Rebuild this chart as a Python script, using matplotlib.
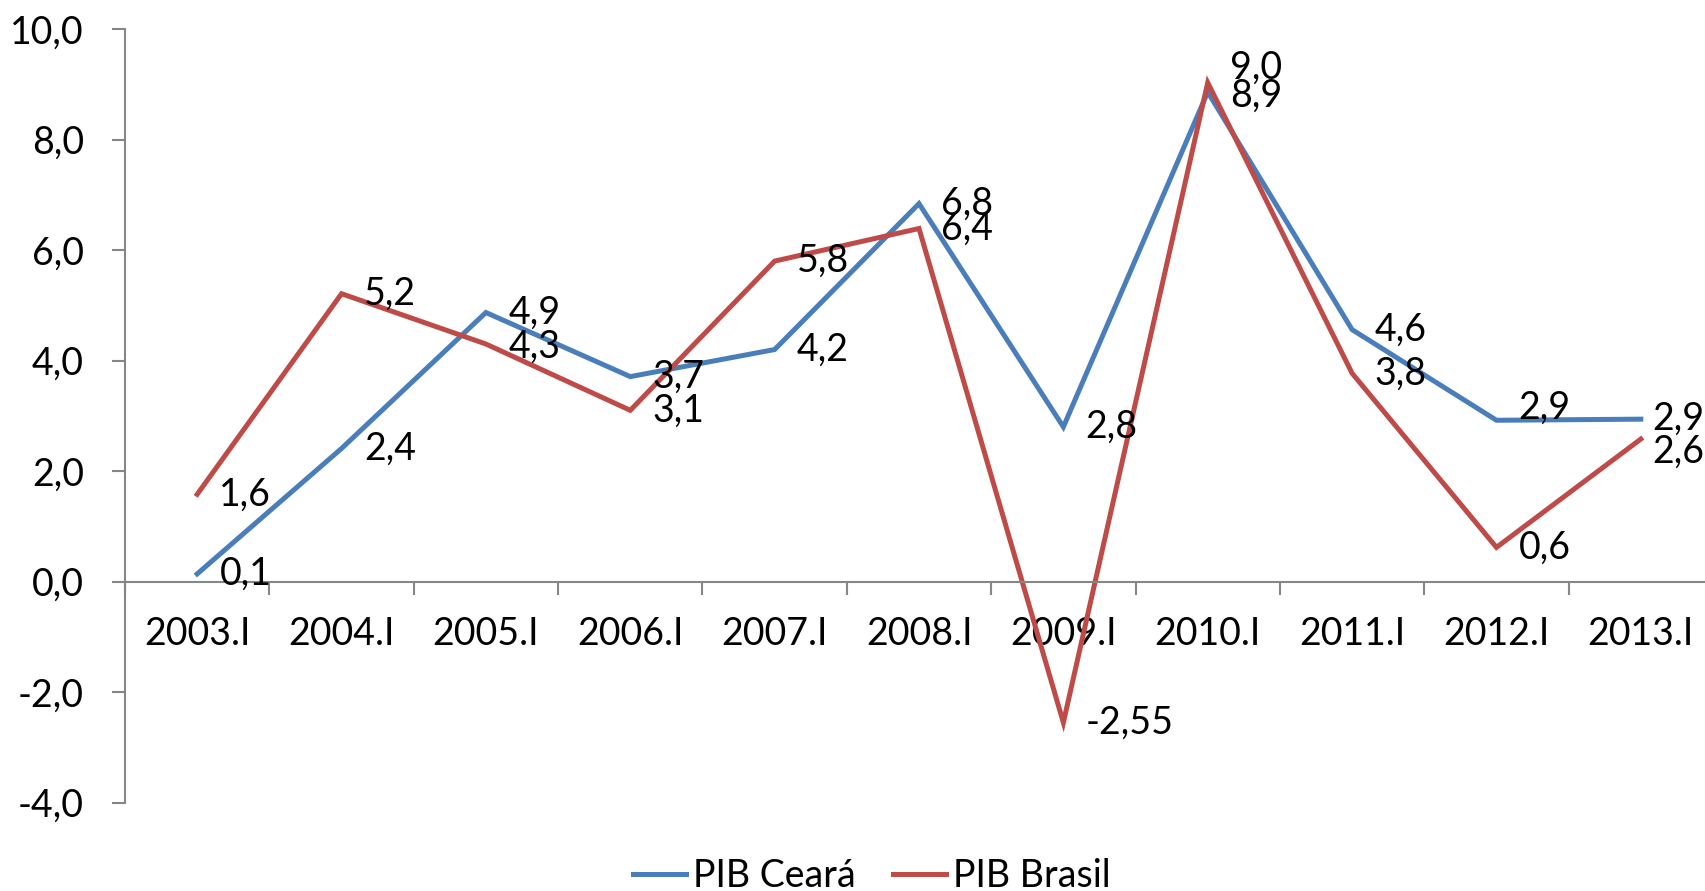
import matplotlib
matplotlib.use("Agg")
import matplotlib.pyplot as plt
import numpy as np

plt.rcParams['font.family'] = ['Lato', 'DejaVu Sans']

categories = ["2003.I", "2004.I", "2005.I", "2006.I", "2007.I", "2008.I",
              "2009.I", "2010.I", "2011.I", "2012.I", "2013.I"]
pib_ceara = [0.14, 2.41, 4.87, 3.71, 4.20, 6.84, 2.80, 8.86, 4.56, 2.92, 2.94]
pib_brasil = [1.58, 5.21, 4.30, 3.10, 5.80, 6.39, -2.55, 9.03, 3.77, 0.62, 2.58]
ceara_decimals = [1] * 11
brasil_decimals = [1, 1, 1, 1, 1, 1, 2, 1, 1, 1, 1]
yticks = [-4, -2, 0, 2, 4, 6, 8, 10]

BLUE = "#4A7EBB"
RED = "#BE4B48"
GRAY = "#868686"
FS = 27

W, H = 1705, 891
fig = plt.figure(figsize=(W / 100, H / 100), dpi=100)
ax = fig.add_axes([125 / W, (H - 802.7) / H, (1713 - 125) / W, (802.7 - 29) / H])

x = np.arange(len(categories))
ax.plot(x, pib_ceara, color=BLUE, lw=3.6, solid_joinstyle='miter', label="PIB Ceará")
ax.plot(x, pib_brasil, color=RED, lw=3.6, solid_joinstyle='miter', label="PIB Brasil")

ax.set_xlim(-0.5, len(categories) - 0.5)
ax.set_ylim(-4, 10)

for s in ['top', 'right']:
    ax.spines[s].set_visible(False)
ax.spines['bottom'].set_position(('data', 0))
for s in ['left', 'bottom']:
    ax.spines[s].set_color(GRAY)
    ax.spines[s].set_linewidth(1.5)

ax.set_yticks(yticks)
ax.set_yticklabels([f"{v:.1f}".replace('.', ',') for v in yticks], fontsize=FS)
ax.tick_params(axis='y', length=9.5, width=1.5, color=GRAY, pad=20)

ax.set_xticks(x)
ax.set_xticklabels(categories, fontsize=FS)
ax.set_xticks(np.arange(len(categories) + 1) - 0.5, minor=True)
ax.tick_params(axis='x', which='major', length=0, pad=25)
ax.tick_params(axis='x', which='minor', length=9.5, width=1.5, color=GRAY)

def fmt(v, d):
    return f"{v:.{d}f}".replace('.', ',')

# label nudges in pixels (dx, dy) per index
ceara_nudge = {7: (0, -4), 9: (0, 13), 10: (-11, 0)}
brasil_nudge = {2: (0, -3), 7: (0, 15), 10: (-11, -13)}

for series, decs, nudge in [(pib_ceara, ceara_decimals, ceara_nudge),
                            (pib_brasil, brasil_decimals, brasil_nudge)]:
    for i, (v, d) in enumerate(zip(series, decs)):
        dx, dy = nudge.get(i, (0, 0))
        ax.annotate(fmt(v, d), (i, v), xytext=(16 + dx * 0.72, dy * 0.72),
                    textcoords='offset points', fontsize=FS,
                    ha='left', va='center', annotation_clip=False)

fig.legend(loc='center', bbox_to_anchor=(872 / W, (H - 876) / H), ncol=2,
           frameon=False, fontsize=FS, handlelength=1.4, handletextpad=0.2,
           columnspacing=1.0, borderaxespad=0)

fig.savefig("out.png", dpi=100)
